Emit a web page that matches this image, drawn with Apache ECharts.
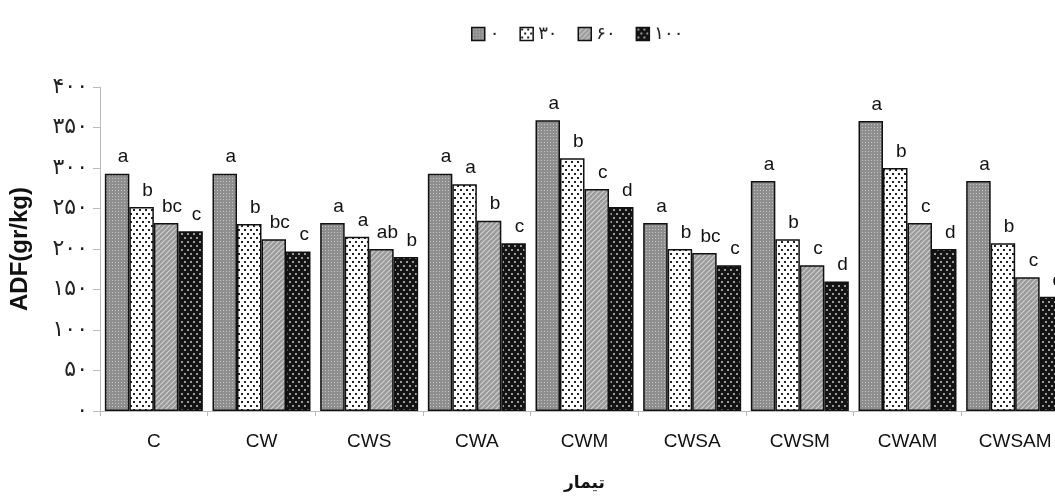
<!DOCTYPE html>
<html><head><meta charset="utf-8">
<script src="https://cdn.jsdelivr.net/npm/echarts@6/dist/echarts.min.js"></script>
<style>html,body{margin:0;padding:0;background:#fff;overflow:hidden}#c{width:1069px;height:499px}</style>
</head><body><div id="c"></div>
<script>
var categories = ['C','CW','CWS','CWA','CWM','CWSA','CWSM','CWAM','CWSAM'];
var seriesNames = ['۰','۳۰','۶۰','۱۰۰'];
var s0 = [293, 293, 232, 293, 359, 232, 284, 358, 284];
var s1 = [252, 231, 215, 280, 312, 200, 212, 300, 207];
var s2 = [232, 212, 200, 235, 274, 195, 180, 232, 165];
var s3 = [222, 197, 190, 207, 252, 180, 160, 200, 141];
var l0 = ['a','a','a','a','a','a','a','a','a'];
var l1 = ['b','b','a','a','b','b','b','b','b'];
var l2 = ['bc','bc','ab','b','c','bc','c','c','c'];
var l3 = ['c','c','b','c','d','c','d','d','d'];
var yTicks = [0,50,100,150,200,250,300,350,400];

function toFa(v){return String(v).replace(/\d/g,function(d){return '۰۱۲۳۴۵۶۷۸۹'[+d];});}

function mk(w,h,fn){var c=document.createElement('canvas');c.width=w;c.height=h;fn(c.getContext('2d'));return c;}
var p0 = mk(3,3,function(g){g.fillStyle='#8e8e8e';g.fillRect(0,0,3,3);g.fillStyle='#c4c4c4';g.fillRect(1,1,1,1);});
var p1 = mk(6,8,function(g){g.fillStyle='#fff';g.fillRect(0,0,6,8);g.fillStyle='#222';g.fillRect(1,1,2,2);g.fillRect(4,5,2,2);});
var p2 = mk(5,5,function(g){g.fillStyle='#9a9a9a';g.fillRect(0,0,5,5);g.strokeStyle='#d0d0d0';g.lineWidth=1.2;
  for(var k=-5;k<=10;k+=5){g.beginPath();g.moveTo(k,5);g.lineTo(k+5,0);g.stroke();}});
var p3 = mk(6,8,function(g){g.fillStyle='#141414';g.fillRect(0,0,6,8);g.fillStyle='#9a9a9a';g.fillRect(1,1,2,2);g.fillRect(4,5,2,2);});
var pats=[p0,p1,p2,p3];
var vals=[s0,s1,s2,s3];
var labs=[l0,l1,l2,l3];

var chart = echarts.init(document.getElementById('c'));
var series = vals.map(function(v,i){
  return {
    name: seriesNames[i], type:'bar', barGap:'0%', barCategoryGap:'9%',
    data: v.map(function(x,j){return {value:x, label:{formatter: labs[i][j]}};}),
    itemStyle:{color:{image:pats[i],repeat:'repeat'}, borderColor:'#111', borderWidth:1.5},
    label:{show:true, position:'top', offset:[6,-2], fontFamily:'Liberation Sans, Arial', fontSize:19, color:'#111'}
  };
});
chart.setOption({
  animation:false,
  legend:{top:20, left:466, itemWidth:13, itemHeight:13, itemGap:20,
    textStyle:{fontFamily:'DejaVu Sans', fontSize:18, color:'#222'},
    data: seriesNames.map(function(n,i){return {name:n, icon:'rect', itemStyle:{borderColor:'#111',borderWidth:1.5}};})},
  grid:{left:100, top:87, right:0, height:324, containLabel:false, outerBoundsMode:'none'},
  xAxis:{type:'category', data:categories,
    axisLine:{lineStyle:{color:'#bbb'}}, axisTick:{show:true, lineStyle:{color:'#bbb'}},
    axisLabel:{fontFamily:'Liberation Sans, Arial', fontSize:19, color:'#111', margin:21},
    name:'تیمار', nameLocation:'middle', nameGap:64,
    nameTextStyle:{fontFamily:'DejaVu Sans', fontWeight:'bold', fontSize:17, color:'#111'}},
  yAxis:{type:'value', min:0, max:400, interval:50,
    axisLine:{show:true, lineStyle:{color:'#bbb'}}, axisTick:{show:true, length:7, lineStyle:{color:'#bbb'}},
    splitLine:{show:false},
    axisLabel:{fontFamily:'DejaVu Sans', fontSize:22, color:'#222', margin:12, formatter:function(v){return toFa(v);}},
    name:'ADF(gr/kg)', nameLocation:'middle', nameGap:68, nameRotate:90,
    nameTextStyle:{fontFamily:'Liberation Sans, Arial', fontWeight:'bold', fontSize:24, color:'#111'}},
  series: series
});
</script></body></html>
